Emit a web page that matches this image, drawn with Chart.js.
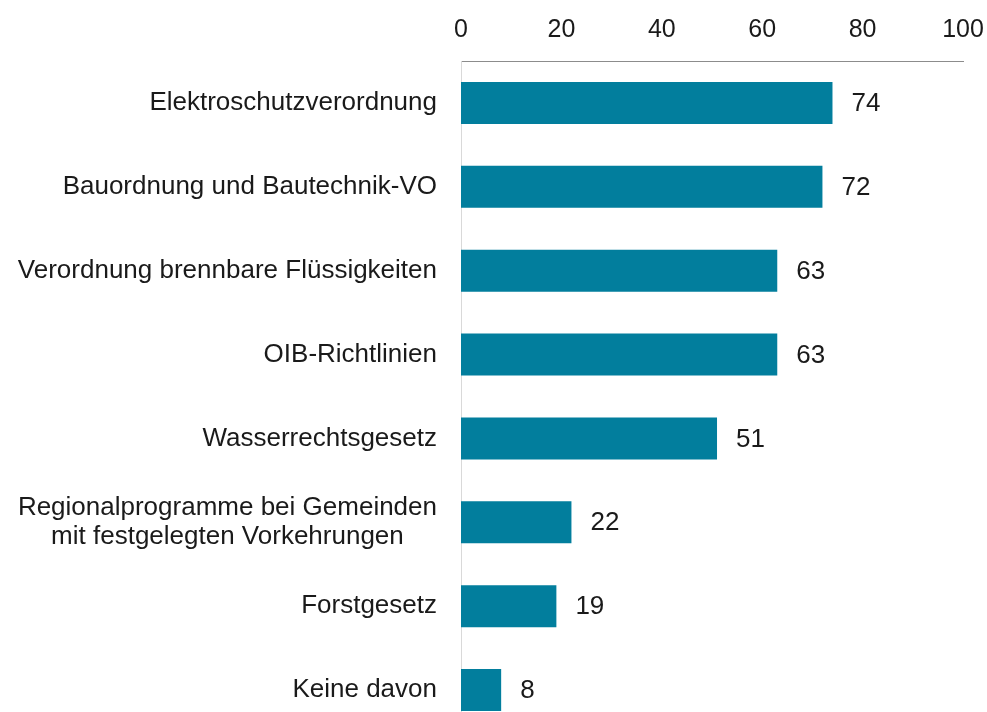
<!DOCTYPE html>
<html>
<head>
<meta charset="utf-8">
<script src="https://cdn.jsdelivr.net/npm/chart.js@4"></script>
<style>
  html, body { margin: 0; padding: 0; background: #fff; overflow: hidden; }
  #wrap { width: 987px; height: 740px; position: relative; }
</style>
</head>
<body>
<div id="wrap"><canvas id="chart"></canvas></div>
<script>
const categories = [
    'Elektroschutzverordnung',
    'Bauordnung und Bautechnik-VO',
    'Verordnung brennbare Flüssigkeiten',
    'OIB-Richtlinien',
    'Wasserrechtsgesetz',
    ['Regionalprogramme bei Gemeinden', 'mit festgelegten Vorkehrungen'],
    'Forstgesetz',
    'Keine davon'
];
const values = [74, 72, 63, 63, 51, 22, 19, 8];
const tickValues = [0, 20, 40, 60, 80, 100];

const FAMILY = '"Liberation Sans", Arial, sans-serif';
const FONT = '26px ' + FAMILY;
const TEXT = '#1a1a1a';

// category labels: block right-aligned, lines centred inside block
const categoryLabels = {
    id: 'categoryLabels',
    afterDraw(chart) {
        const ctx = chart.ctx;
        const y = chart.scales.y;
        const right = chart.chartArea.left - 24;
        ctx.save();
        ctx.font = FONT;
        ctx.fillStyle = TEXT;
        ctx.textAlign = 'center';
        ctx.textBaseline = 'middle';
        categories.forEach((lab, i) => {
            const lines = Array.isArray(lab) ? lab : [lab];
            const w = Math.max(...lines.map(l => ctx.measureText(l).width));
            const cx = right - w / 2;
            const cy = y.getPixelForValue(i);
            const lh = 29;
            lines.forEach((l, j) => {
                ctx.fillText(l, cx, cy + (j - (lines.length - 1) / 2) * lh);
            });
        });
        ctx.restore();
    }
};

const valueLabels = {
    id: 'valueLabels',
    afterDatasetsDraw(chart) {
        const ctx = chart.ctx;
        const meta = chart.getDatasetMeta(0);
        ctx.save();
        ctx.font = FONT;
        ctx.fillStyle = TEXT;
        ctx.textAlign = 'left';
        ctx.textBaseline = 'middle';
        meta.data.forEach((bar, i) => {
            ctx.fillText(String(values[i]), bar.x + 19, bar.y + 1);
        });
        ctx.restore();
    }
};

new Chart(document.getElementById('chart'), {
    type: 'bar',
    data: {
        labels: categories,
        datasets: [{
            data: values,
            backgroundColor: '#027e9d',
            borderWidth: 0,
            barPercentage: 0.5,
            categoryPercentage: 1.0
        }]
    },
    options: {
        indexAxis: 'y',
        responsive: true,
        maintainAspectRatio: false,
        animation: false,
        layout: { padding: { left: 0, right: 24, top: 0, bottom: 8 } },
        plugins: {
            legend: { display: false },
            tooltip: { enabled: false }
        },
        scales: {
            x: {
                position: 'top',
                min: 0,
                max: 100,
                afterBuildTicks: s => { s.ticks = tickValues.map(v => ({ value: v })); },
                afterFit: s => {
                    s.height = 61;
                    s.paddingLeft = 0;
                    s.paddingRight = 0;
                },
                grid: { display: false, drawTicks: false },
                border: { display: true, color: '#8c8c8c', width: 1 },
                ticks: {
                    padding: 16,
                    color: TEXT,
                    font: { family: FAMILY, size: 25 }
                }
            },
            y: {
                afterFit: s => { s.width = 461; },
                grid: { display: false, drawTicks: false },
                border: { display: true, color: '#d9d9d9', width: 1 },
                ticks: { display: false }
            }
        }
    },
    plugins: [categoryLabels, valueLabels]
});
</script>
</body>
</html>
